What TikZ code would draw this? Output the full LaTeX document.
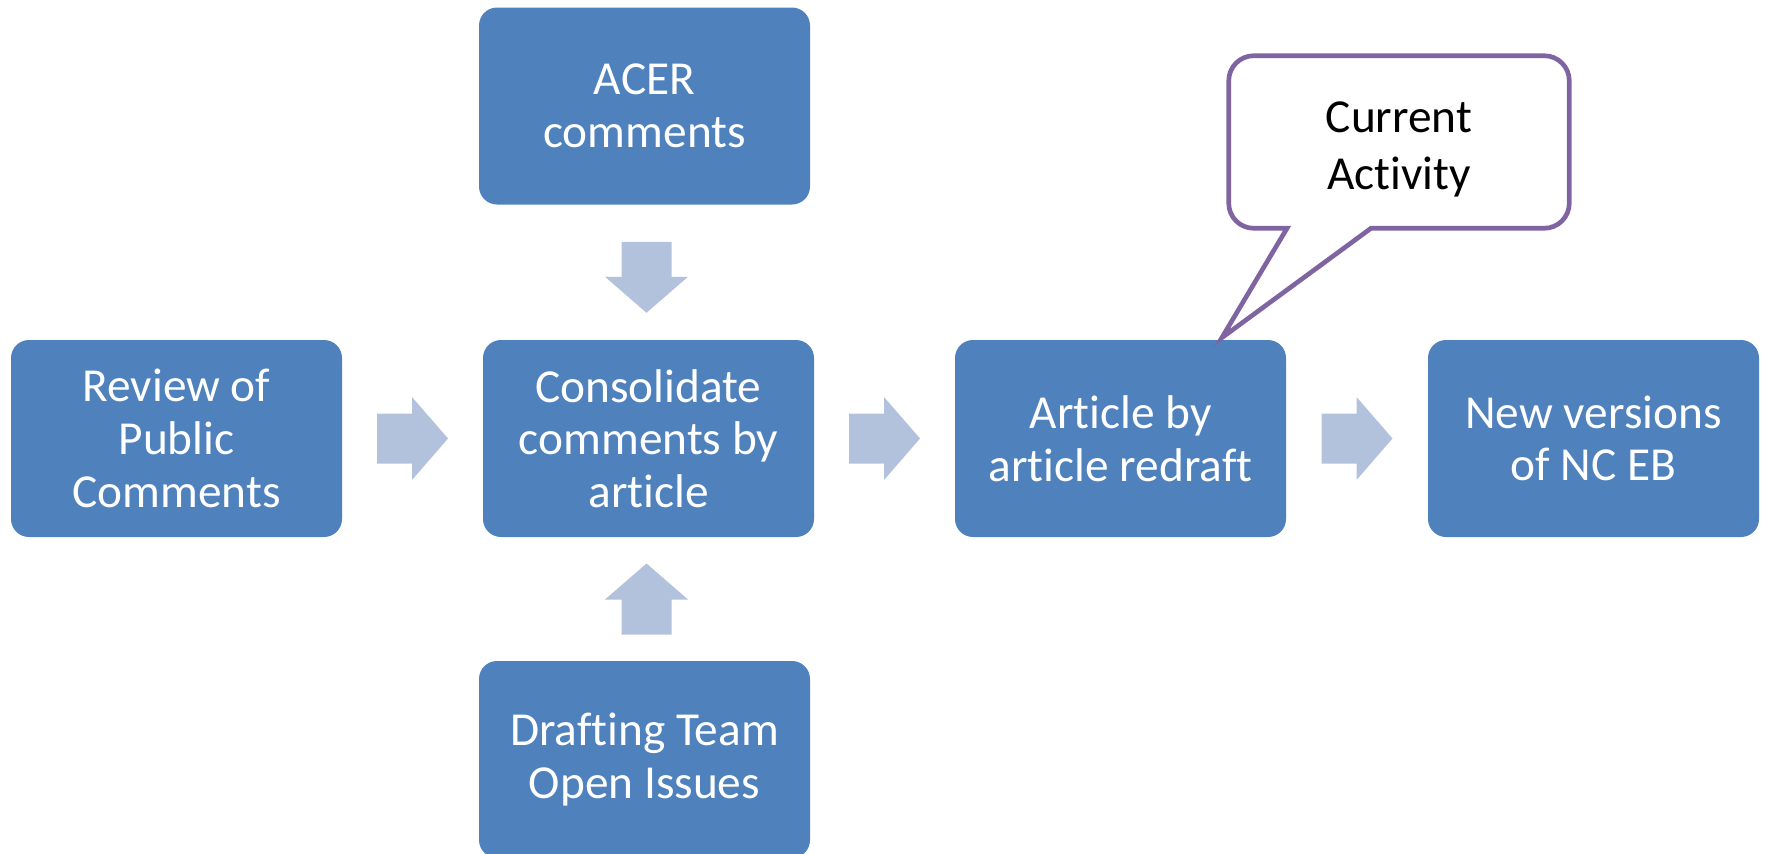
\documentclass[tikz,border=0pt]{standalone}
\usepackage{fontspec}
\setmainfont{Carlito}[Ligatures=NoCommon]
\usetikzlibrary{calc}

\definecolor{stageblue}{HTML}{4F81BD}
\definecolor{flowblue}{HTML}{B3C2DC}
\definecolor{notepurple}{HTML}{8064A2}

\tikzset{
  stagebox/.style={fill=stageblue, text=white, rounded corners=13.5pt,
    minimum width=248.25pt, minimum height=147.75pt, inner sep=0pt,
    align=center, font=\fontsize{35.5}{39.5}\selectfont},
  notebox/.style={minimum width=255pt, minimum height=129pt, inner sep=0pt,
    align=center, font=\fontsize{35.5}{43}\selectfont},
  flowarrow/.pic={
    \fill[flowblue] (-35.5,-25) -- (-0.5,-25) -- (-0.5,-41.5) -- (35.5,0)
      -- (-0.5,41.5) -- (-0.5,25) -- (-35.5,25) -- cycle;
  }
}

\begin{document}
\begin{tikzpicture}[x=0.75pt,y=-0.75pt]
\useasboundingbox (0,0) rectangle (1766,853);
\clip (0,0) rectangle (1766,853);

% stages
\node[stagebox] (review) at (176.5,438.5) {Review of\\Public\\Comments};
\node[stagebox] (consol) at (648.5,438.5) {Consolidate\\comments by\\article};
\node[stagebox] (acer) at (644.5,106) {ACER\\comments};
\node[stagebox] (drafting) at (644.5,759.5) {Drafting Team\\Open Issues};
\node[stagebox] (article) at (1120.5,438.5) {Article by\\article redraft};
\node[stagebox] (newver) at (1593.5,438.5) {New versions\\of NC EB};

% block arrows
\pic at ($(review.east)!0.5!(consol.west)$) {flowarrow};
\pic at ($(consol.east)!0.5!(article.west)$) {flowarrow};
\pic at ($(article.east)!0.5!(newver.west)$) {flowarrow};
\pic[rotate=-90] at ($(acer.south)!0.5!(consol.north)+(0,5)$) {flowarrow};
\pic[rotate=90] at ($(drafting.north)!0.5!(consol.south)$) {flowarrow};

% callout
\node[notebox] (note) at (1399,142) {};
\coordinate (tip) at ([xshift=76pt,yshift=1.5pt]article.north);
\coordinate (baseA) at ([xshift=-84pt]note.south);
\coordinate (baseB) at ([xshift=-21pt]note.south);
\draw[notepurple, line width=3.5pt, fill=white, line join=miter]
  (baseA) -- (tip) -- (baseB)
  [rounded corners=18.75pt] -- (note.south east) -- (note.north east)
  -- (note.north west) -- (note.south west) [sharp corners] -- cycle;
\node[notebox] at ([yshift=-5.5pt]note.center) {Current\\Activity};
\end{tikzpicture}
\end{document}
